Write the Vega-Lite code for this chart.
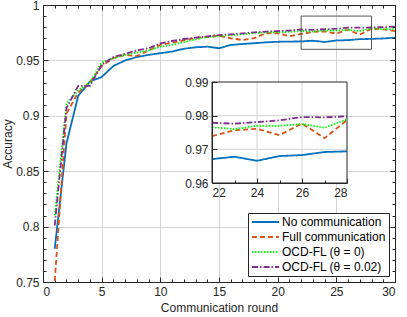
{
  "$schema": "https://vega.github.io/schema/vega-lite/v6.json",
  "width": 352,
  "height": 277,
  "autosize": {"type": "none"},
  "padding": {"left": 43, "top": 5, "right": 12, "bottom": 35},
  "background": "white",
  "config": {
    "font": "Liberation Sans",
    "view": {"stroke": null},
    "axis": {
      "labelFont": "Liberation Sans",
      "titleFont": "Liberation Sans",
      "labelFontSize": 12,
      "titleFontSize": 12,
      "titleFontWeight": "normal",
      "labelColor": "#262626",
      "titleColor": "#262626",
      "domainColor": "#262626",
      "tickColor": "#262626",
      "gridColor": "#d4d4d4",
      "gridWidth": 1
    },
    "legend": {
      "orient": "bottom-right",
      "offset": 6,
      "fillColor": "white",
      "strokeColor": "#262626",
      "padding": 3,
      "rowPadding": 3,
      "clipHeight": 12,
      "symbolType": "stroke",
      "symbolSize": 729,
      "symbolStrokeWidth": 1.8,
      "labelFontSize": 12,
      "labelFont": "Liberation Sans",
      "labelColor": "#000000",
      "labelOffset": 2,
      "labelLimit": 300
    }
  },
  "datasets": {
    "acc": [
      {"r": 1, "a": 0.780, "s": "No communication"},
      {"r": 2, "a": 0.875, "s": "No communication"},
      {"r": 3, "a": 0.918, "s": "No communication"},
      {"r": 4, "a": 0.931, "s": "No communication"},
      {"r": 5, "a": 0.935, "s": "No communication"},
      {"r": 6, "a": 0.945, "s": "No communication"},
      {"r": 7, "a": 0.950, "s": "No communication"},
      {"r": 8, "a": 0.953, "s": "No communication"},
      {"r": 9, "a": 0.955, "s": "No communication"},
      {"r": 10, "a": 0.9565, "s": "No communication"},
      {"r": 11, "a": 0.958, "s": "No communication"},
      {"r": 12, "a": 0.9605, "s": "No communication"},
      {"r": 13, "a": 0.9618, "s": "No communication"},
      {"r": 14, "a": 0.9624, "s": "No communication"},
      {"r": 15, "a": 0.961, "s": "No communication"},
      {"r": 16, "a": 0.9639, "s": "No communication"},
      {"r": 17, "a": 0.9648, "s": "No communication"},
      {"r": 18, "a": 0.9655, "s": "No communication"},
      {"r": 19, "a": 0.9663, "s": "No communication"},
      {"r": 20, "a": 0.9668, "s": "No communication"},
      {"r": 21, "a": 0.967, "s": "No communication"},
      {"r": 22, "a": 0.9671, "s": "No communication"},
      {"r": 23, "a": 0.9678, "s": "No communication"},
      {"r": 24, "a": 0.9666, "s": "No communication"},
      {"r": 25, "a": 0.968, "s": "No communication"},
      {"r": 26, "a": 0.9683, "s": "No communication"},
      {"r": 27, "a": 0.9692, "s": "No communication"},
      {"r": 28, "a": 0.9694, "s": "No communication"},
      {"r": 29, "a": 0.9698, "s": "No communication"},
      {"r": 30, "a": 0.9705, "s": "No communication"},
      {"r": 1, "a": 0.751, "s": "Full communication"},
      {"r": 2, "a": 0.902, "s": "Full communication"},
      {"r": 3, "a": 0.921, "s": "Full communication"},
      {"r": 4, "a": 0.930, "s": "Full communication"},
      {"r": 5, "a": 0.945, "s": "Full communication"},
      {"r": 6, "a": 0.952, "s": "Full communication"},
      {"r": 7, "a": 0.955, "s": "Full communication"},
      {"r": 8, "a": 0.954, "s": "Full communication"},
      {"r": 9, "a": 0.959, "s": "Full communication"},
      {"r": 10, "a": 0.964, "s": "Full communication"},
      {"r": 11, "a": 0.966, "s": "Full communication"},
      {"r": 12, "a": 0.968, "s": "Full communication"},
      {"r": 13, "a": 0.9703, "s": "Full communication"},
      {"r": 14, "a": 0.9712, "s": "Full communication"},
      {"r": 15, "a": 0.9722, "s": "Full communication"},
      {"r": 16, "a": 0.970, "s": "Full communication"},
      {"r": 17, "a": 0.9684, "s": "Full communication"},
      {"r": 18, "a": 0.970, "s": "Full communication"},
      {"r": 19, "a": 0.9745, "s": "Full communication"},
      {"r": 20, "a": 0.9745, "s": "Full communication"},
      {"r": 21, "a": 0.9718, "s": "Full communication"},
      {"r": 22, "a": 0.9739, "s": "Full communication"},
      {"r": 23, "a": 0.9757, "s": "Full communication"},
      {"r": 24, "a": 0.9761, "s": "Full communication"},
      {"r": 25, "a": 0.9742, "s": "Full communication"},
      {"r": 26, "a": 0.9777, "s": "Full communication"},
      {"r": 27, "a": 0.9733, "s": "Full communication"},
      {"r": 28, "a": 0.9787, "s": "Full communication"},
      {"r": 29, "a": 0.978, "s": "Full communication"},
      {"r": 30, "a": 0.9765, "s": "Full communication"},
      {"r": 1, "a": 0.810, "s": "OCD-FL (θ = 0)"},
      {"r": 2, "a": 0.911, "s": "OCD-FL (θ = 0)"},
      {"r": 3, "a": 0.923, "s": "OCD-FL (θ = 0)"},
      {"r": 4, "a": 0.930, "s": "OCD-FL (θ = 0)"},
      {"r": 5, "a": 0.948, "s": "OCD-FL (θ = 0)"},
      {"r": 6, "a": 0.952, "s": "OCD-FL (θ = 0)"},
      {"r": 7, "a": 0.955, "s": "OCD-FL (θ = 0)"},
      {"r": 8, "a": 0.957, "s": "OCD-FL (θ = 0)"},
      {"r": 9, "a": 0.959, "s": "OCD-FL (θ = 0)"},
      {"r": 10, "a": 0.9624, "s": "OCD-FL (θ = 0)"},
      {"r": 11, "a": 0.964, "s": "OCD-FL (θ = 0)"},
      {"r": 12, "a": 0.9665, "s": "OCD-FL (θ = 0)"},
      {"r": 13, "a": 0.969, "s": "OCD-FL (θ = 0)"},
      {"r": 14, "a": 0.9712, "s": "OCD-FL (θ = 0)"},
      {"r": 15, "a": 0.9719, "s": "OCD-FL (θ = 0)"},
      {"r": 16, "a": 0.9727, "s": "OCD-FL (θ = 0)"},
      {"r": 17, "a": 0.9735, "s": "OCD-FL (θ = 0)"},
      {"r": 18, "a": 0.9748, "s": "OCD-FL (θ = 0)"},
      {"r": 19, "a": 0.9752, "s": "OCD-FL (θ = 0)"},
      {"r": 20, "a": 0.9755, "s": "OCD-FL (θ = 0)"},
      {"r": 21, "a": 0.9757, "s": "OCD-FL (θ = 0)"},
      {"r": 22, "a": 0.9766, "s": "OCD-FL (θ = 0)"},
      {"r": 23, "a": 0.976, "s": "OCD-FL (θ = 0)"},
      {"r": 24, "a": 0.977, "s": "OCD-FL (θ = 0)"},
      {"r": 25, "a": 0.977, "s": "OCD-FL (θ = 0)"},
      {"r": 26, "a": 0.9775, "s": "OCD-FL (θ = 0)"},
      {"r": 27, "a": 0.9764, "s": "OCD-FL (θ = 0)"},
      {"r": 28, "a": 0.9789, "s": "OCD-FL (θ = 0)"},
      {"r": 29, "a": 0.9782, "s": "OCD-FL (θ = 0)"},
      {"r": 30, "a": 0.9782, "s": "OCD-FL (θ = 0)"},
      {"r": 1, "a": 0.801, "s": "OCD-FL (θ = 0.02)"},
      {"r": 2, "a": 0.907, "s": "OCD-FL (θ = 0.02)"},
      {"r": 3, "a": 0.927, "s": "OCD-FL (θ = 0.02)"},
      {"r": 4, "a": 0.927, "s": "OCD-FL (θ = 0.02)"},
      {"r": 5, "a": 0.946, "s": "OCD-FL (θ = 0.02)"},
      {"r": 6, "a": 0.953, "s": "OCD-FL (θ = 0.02)"},
      {"r": 7, "a": 0.956, "s": "OCD-FL (θ = 0.02)"},
      {"r": 8, "a": 0.959, "s": "OCD-FL (θ = 0.02)"},
      {"r": 9, "a": 0.961, "s": "OCD-FL (θ = 0.02)"},
      {"r": 10, "a": 0.9654, "s": "OCD-FL (θ = 0.02)"},
      {"r": 11, "a": 0.9675, "s": "OCD-FL (θ = 0.02)"},
      {"r": 12, "a": 0.9693, "s": "OCD-FL (θ = 0.02)"},
      {"r": 13, "a": 0.9705, "s": "OCD-FL (θ = 0.02)"},
      {"r": 14, "a": 0.9717, "s": "OCD-FL (θ = 0.02)"},
      {"r": 15, "a": 0.9729, "s": "OCD-FL (θ = 0.02)"},
      {"r": 16, "a": 0.9735, "s": "OCD-FL (θ = 0.02)"},
      {"r": 17, "a": 0.9744, "s": "OCD-FL (θ = 0.02)"},
      {"r": 18, "a": 0.9753, "s": "OCD-FL (θ = 0.02)"},
      {"r": 19, "a": 0.976, "s": "OCD-FL (θ = 0.02)"},
      {"r": 20, "a": 0.9765, "s": "OCD-FL (θ = 0.02)"},
      {"r": 21, "a": 0.977, "s": "OCD-FL (θ = 0.02)"},
      {"r": 22, "a": 0.9779, "s": "OCD-FL (θ = 0.02)"},
      {"r": 23, "a": 0.9776, "s": "OCD-FL (θ = 0.02)"},
      {"r": 24, "a": 0.9781, "s": "OCD-FL (θ = 0.02)"},
      {"r": 25, "a": 0.9786, "s": "OCD-FL (θ = 0.02)"},
      {"r": 26, "a": 0.9796, "s": "OCD-FL (θ = 0.02)"},
      {"r": 27, "a": 0.9795, "s": "OCD-FL (θ = 0.02)"},
      {"r": 28, "a": 0.9798, "s": "OCD-FL (θ = 0.02)"},
      {"r": 29, "a": 0.98, "s": "OCD-FL (θ = 0.02)"},
      {"r": 30, "a": 0.9804, "s": "OCD-FL (θ = 0.02)"}
    ]
  },
  "layer": [
    {
      "layer": [
        {
          "data": {"name": "acc"},
          "mark": {"type": "line", "strokeWidth": 1.8, "clip": true},
          "encoding": {
            "x": {
              "field": "r",
              "type": "quantitative",
              "scale": {"domain": [0, 30], "nice": false, "zero": false},
              "axis": {
                "orient": "bottom",
                "title": "Communication round",
                "titlePadding": 3,
                "values": [0,1,2,3,4,5,6,7,8,9,10,11,12,13,14,15,16,17,18,19,20,21,22,23,24,25,26,27,28,29,30],
                "labelExpr": "datum.value % 5 === 0 ? format(datum.value, 'd') : ''",
                "labelOverlap": false,
                "labelPadding": 9,
                "grid": true,
                "gridOpacity": {"condition": {"test": "datum.value % 5 === 0", "value": 1}, "value": 0},
                "tickSize": {"condition": {"test": "datum.value % 5 === 0", "value": -5}, "value": -3}
              }
            },
            "y": {
              "field": "a",
              "type": "quantitative",
              "scale": {"domain": [0.75, 1], "nice": false, "zero": false},
              "axis": {
                "orient": "left",
                "title": "Accuracy",
                "titlePadding": 1,
                "values": [0.75,0.76,0.77,0.78,0.79,0.8,0.81,0.82,0.83,0.84,0.85,0.86,0.87,0.88,0.89,0.9,0.91,0.92,0.93,0.94,0.95,0.96,0.97,0.98,0.99,1],
                "labelExpr": "round(datum.value * 100) % 5 === 0 ? format(datum.value, '~g') : ''",
                "labelOverlap": false,
                "labelPadding": 9,
                "grid": true,
                "gridOpacity": {"condition": {"test": "round(datum.value * 100) % 5 === 0", "value": 1}, "value": 0},
                "tickSize": {"condition": {"test": "round(datum.value * 100) % 5 === 0", "value": -5}, "value": -3}
              }
            },
            "color": {
              "field": "s",
              "type": "nominal",
              "scale": {
                "domain": ["No communication", "Full communication", "OCD-FL (θ = 0)", "OCD-FL (θ = 0.02)"],
                "range": ["#0072BD", "#D95319", "#00FF00", "#7E2F8E"]
              },
              "legend": {"title": null}
            },
            "strokeDash": {
              "field": "s",
              "type": "nominal",
              "scale": {
                "domain": ["No communication", "Full communication", "OCD-FL (θ = 0)", "OCD-FL (θ = 0.02)"],
                "range": [[1, 0], [5, 3], [1.5, 1.5], [6, 2, 1.5, 2]]
              },
              "legend": {"title": null}
            }
          }
        },
        {
          "data": {"values": [{}]},
          "mark": {"type": "rect", "fill": "transparent", "stroke": "#555555", "strokeWidth": 1},
          "encoding": {
            "x": {
              "datum": 22,
              "type": "quantitative",
              "scale": {"domain": [0, 30], "nice": false, "zero": false},
              "axis": {
                "orient": "top",
                "title": null,
                "labels": false,
                "grid": false,
                "zindex": 1,
                "values": [0,1,2,3,4,5,6,7,8,9,10,11,12,13,14,15,16,17,18,19,20,21,22,23,24,25,26,27,28,29,30],
                "tickSize": {"condition": {"test": "datum.value % 5 === 0", "value": -5}, "value": -3}
              }
            },
            "x2": {"datum": 28},
            "y": {
              "datum": 0.96,
              "type": "quantitative",
              "scale": {"domain": [0.75, 1], "nice": false, "zero": false},
              "axis": {
                "orient": "right",
                "title": null,
                "labels": false,
                "grid": false,
                "zindex": 1,
                "values": [0.75,0.76,0.77,0.78,0.79,0.8,0.81,0.82,0.83,0.84,0.85,0.86,0.87,0.88,0.89,0.9,0.91,0.92,0.93,0.94,0.95,0.96,0.97,0.98,0.99,1],
                "tickSize": {"condition": {"test": "round(datum.value * 100) % 5 === 0", "value": -5}, "value": -3}
              }
            },
            "y2": {"datum": 0.99}
          }
        }
      ],
      "resolve": {"axis": {"x": "independent", "y": "independent"}}
    },
    {
      "layer": [
        {
          "data": {"values": [{}]},
          "mark": {"type": "rect", "fill": "white", "stroke": null},
          "encoding": {
            "x": {"datum": 22, "type": "quantitative"},
            "x2": {"datum": 28},
            "y": {"datum": 0.96, "type": "quantitative"},
            "y2": {"datum": 0.99}
          }
        },
        {
          "data": {"values": [{}]},
          "mark": {"type": "rule", "color": "#d4d4d4", "strokeWidth": 1},
          "encoding": {"x": {"datum": 22, "type": "quantitative"}, "x2": {"datum": 28}, "y": {"datum": 0.97, "type": "quantitative"}}
        },
        {
          "data": {"values": [{}]},
          "mark": {"type": "rule", "color": "#d4d4d4", "strokeWidth": 1},
          "encoding": {"x": {"datum": 22, "type": "quantitative"}, "x2": {"datum": 28}, "y": {"datum": 0.98, "type": "quantitative"}}
        },
        {
          "data": {"values": [{}]},
          "mark": {"type": "rule", "color": "#d4d4d4", "strokeWidth": 1},
          "encoding": {"x": {"datum": 24, "type": "quantitative"}, "y": {"datum": 0.96, "type": "quantitative"}, "y2": {"datum": 0.99}}
        },
        {
          "data": {"values": [{}]},
          "mark": {"type": "rule", "color": "#d4d4d4", "strokeWidth": 1},
          "encoding": {"x": {"datum": 26, "type": "quantitative"}, "y": {"datum": 0.96, "type": "quantitative"}, "y2": {"datum": 0.99}}
        },
        {
          "data": {"name": "acc"},
          "transform": [{"filter": "datum.r >= 22 && datum.r <= 28"}],
          "mark": {"type": "line", "strokeWidth": 1.8},
          "encoding": {
            "x": {
              "field": "r",
              "type": "quantitative",
              "scale": {"domain": [22, 28], "range": [169, 304], "nice": false, "zero": false},
              "axis": {
                "orient": "bottom",
                "offset": -99,
                "title": null,
                "grid": false,
                "zindex": 1,
                "values": [22, 23, 24, 25, 26, 27, 28],
                "labelExpr": "datum.value % 2 === 0 ? format(datum.value, 'd') : ''",
                "labelOverlap": false,
                "labelPadding": 9,
                "tickSize": {"condition": {"test": "datum.value % 2 === 0", "value": -5}, "value": -3}
              }
            },
            "y": {
              "field": "a",
              "type": "quantitative",
              "scale": {"domain": [0.96, 0.99], "range": [178, 77], "nice": false, "zero": false},
              "axis": {
                "orient": "left",
                "offset": -169,
                "title": null,
                "grid": false,
                "zindex": 1,
                "values": [0.96, 0.97, 0.98, 0.99],
                "format": ".2f",
                "labelOverlap": false,
                "labelPadding": 9,
                "tickSize": -5
              }
            },
            "color": {
              "field": "s",
              "type": "nominal",
              "scale": {
                "domain": ["No communication", "Full communication", "OCD-FL (θ = 0)", "OCD-FL (θ = 0.02)"],
                "range": ["#0072BD", "#D95319", "#00FF00", "#7E2F8E"]
              },
              "legend": null
            },
            "strokeDash": {
              "field": "s",
              "type": "nominal",
              "scale": {
                "domain": ["No communication", "Full communication", "OCD-FL (θ = 0)", "OCD-FL (θ = 0.02)"],
                "range": [[1, 0], [5, 3], [1.5, 1.5], [6, 2, 1.5, 2]]
              },
              "legend": null
            }
          }
        },
        {
          "data": {"values": [{}]},
          "mark": {"type": "rect", "fill": "transparent", "stroke": "#262626", "strokeWidth": 1},
          "encoding": {
            "x": {"datum": 22, "type": "quantitative"},
            "x2": {"datum": 28},
            "y": {"datum": 0.96, "type": "quantitative"},
            "y2": {"datum": 0.99}
          }
        }
      ]
    }
  ],
  "resolve": {
    "scale": {"x": "independent", "y": "independent", "color": "independent", "strokeDash": "independent"},
    "axis": {"x": "independent", "y": "independent"}
  }
}
